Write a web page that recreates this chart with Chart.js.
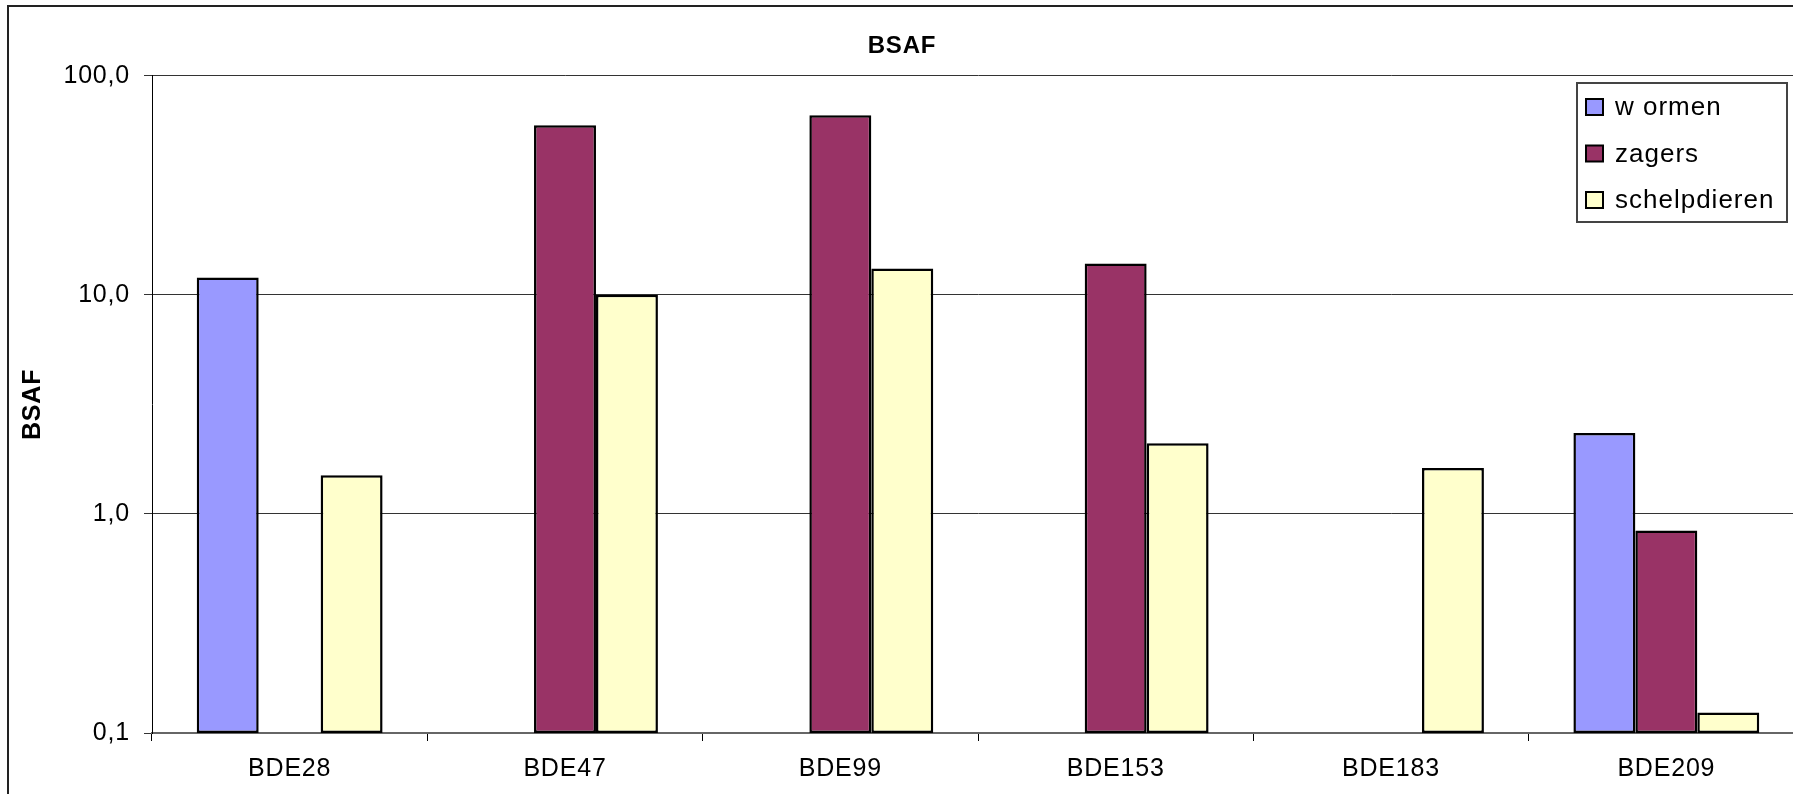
<!DOCTYPE html>
<html lang="nl">
<head>
    <meta charset="UTF-8">
    <title>BSAF</title>
    <script src="https://cdn.jsdelivr.net/npm/chart.js"></script>
    <style>
        html, body { margin: 0; padding: 0; overflow: hidden; background: #fff; }
        .wrap { width: 1793px; height: 794px; overflow: hidden; position: relative; }
        .box { position: absolute; left: 0; top: 0; width: 1830px; height: 794px; }
    </style>
</head>
<body>
    <div class="wrap"><div class="box"><canvas id="bsafChart"></canvas></div></div>

    <script>
        // categories and values
        const congeners = ['BDE28', 'BDE47', 'BDE99', 'BDE153', 'BDE183', 'BDE209'];
        const wormen = [12.0, null, null, null, null, 2.34];
        const zagers = [null, 59.5, 66.0, 13.9, null, 0.84];
        const schelpdieren = [1.5, 10.0, 13.2, 2.1, 1.62, 0.124];
        const yTicks = [0.1, 1, 10, 100];

        const font = 'Liberation Sans, Arial, sans-serif';

        // outer frame of the chart (only top and left edge are visible)
        const framePlugin = {
            id: 'frame',
            beforeDraw(chart) {
                const ctx = chart.ctx;
                // Excel-like text is a bit wider than plain Arial
                ctx.letterSpacing = '0.8px';
                ctx.save();
                ctx.strokeStyle = '#222';
                ctx.lineWidth = 2;
                ctx.beginPath();
                ctx.moveTo(8, chart.height + 5);
                ctx.lineTo(8, 6);
                ctx.lineTo(chart.width + 5, 6);
                ctx.stroke();
                ctx.restore();
            }
        };

        // boxed legend inside the plot, top right
        const boxLegend = {
            id: 'boxLegend',
            afterDraw(chart) {
                const ctx = chart.ctx;
                const x = 1577, y = 83, w = 210, h = 139;
                ctx.save();
                ctx.fillStyle = '#fff';
                ctx.fillRect(x, y, w, h);
                ctx.strokeStyle = '#444';
                ctx.lineWidth = 2;
                ctx.strokeRect(x, y, w, h);
                ctx.font = '26px ' + font;
                ctx.letterSpacing = '1px';
                ctx.textBaseline = 'middle';
                chart.data.datasets.forEach((ds, i) => {
                    const cy = y + 24 + i * 46.5;
                    ctx.fillStyle = ds.backgroundColor;
                    ctx.fillRect(1586, cy - 8, 17, 16);
                    ctx.strokeStyle = '#000';
                    ctx.lineWidth = 2;
                    ctx.strokeRect(1586, cy - 8, 17, 16);
                    ctx.fillStyle = '#000';
                    ctx.fillText(ds.label, 1615, cy + 1);
                });
                ctx.restore();
            }
        };

        const config = {
            type: 'bar',
            data: {
                labels: congeners,
                datasets: [
                    { label: 'w ormen', data: wormen, backgroundColor: '#9999FF' },
                    { label: 'zagers', data: zagers, backgroundColor: '#993366' },
                    { label: 'schelpdieren', data: schelpdieren, backgroundColor: '#FFFFCC' }
                ]
            },
            options: {
                responsive: true,
                maintainAspectRatio: false,
                animation: false,
                layout: { padding: { left: 0, right: 26, top: 0, bottom: 0 } },
                datasets: {
                    bar: {
                        borderColor: '#000',
                        borderWidth: 2.5,
                        borderSkipped: false,
                        categoryPercentage: 0.675,
                        barPercentage: 1.0
                    }
                },
                plugins: {
                    legend: { display: false },
                    tooltip: { enabled: false },
                    title: {
                        display: true,
                        text: 'BSAF',
                        color: '#000',
                        font: { family: font, size: 24, weight: 'bold' },
                        padding: { top: 32, bottom: 15 }
                    }
                },
                scales: {
                    x: {
                        grid: {
                            drawOnChartArea: false,
                            color: '#000',
                            tickLength: 8,
                            offset: true
                        },
                        border: { color: '#666', width: 2 },
                        ticks: {
                            color: '#000',
                            font: { family: font, size: 25 },
                            padding: 13,
                            maxRotation: 0
                        },
                        afterFit(scale) { scale.height = 61; }
                    },
                    y: {
                        type: 'logarithmic',
                        min: 0.1,
                        max: 100,
                        afterBuildTicks(scale) {
                            scale.ticks = yTicks.map(v => ({ value: v }));
                        },
                        grid: {
                            color: '#333',
                            lineWidth: 1,
                            tickLength: 8
                        },
                        border: { color: '#000', width: 1 },
                        ticks: {
                            color: '#000',
                            font: { family: font, size: 25 },
                            padding: 14,
                            callback: v => Number(v).toFixed(1).replace('.', ',')
                        },
                        title: {
                            display: true,
                            text: 'BSAF',
                            color: '#000',
                            font: { family: font, size: 25, weight: 'bold' },
                            padding: { top: 18, bottom: 0 }
                        },
                        afterFit(scale) { scale.width = 152; }
                    }
                }
            },
            plugins: [framePlugin, boxLegend]
        };

        new Chart(document.getElementById('bsafChart'), config);
    </script>
</body>
</html>
